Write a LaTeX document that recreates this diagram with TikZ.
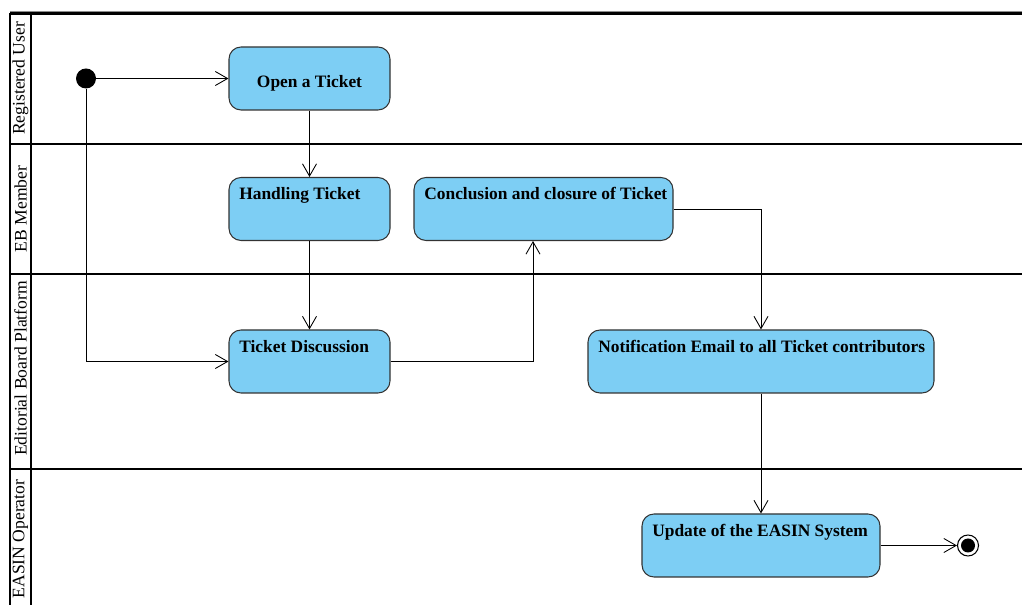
\documentclass[tikz,border=0pt]{standalone}
\usepackage{fontspec}
\setmainfont{Liberation Serif}
\usepackage{tikz}
\usetikzlibrary{arrows.meta}
\usetikzlibrary{calc}
\usepackage{xcolor}
\definecolor{actblue}{RGB}{125,206,244}

\begin{document}
\begin{tikzpicture}[
  act/.style={draw=black!80, fill=actblue, rounded corners=0.24cm, line width=0.6pt, inner sep=0pt},
  acttext/.style={font=\fontsize{9.9}{12}\selectfont\bfseries, anchor=base west, inner sep=0pt},
  lane/.style={rotate=90, inner sep=0pt},
  flow/.style={line width=0.5pt, -{Straight Barb[length=7pt,width=8pt]}},
  sep/.style={line width=1.2pt},
  dot/.style={circle, fill=black, inner sep=0pt}
]
\useasboundingbox (0,0) rectangle (20.44,12.1);

\draw [black!45, line width=0.5pt] (0.2,11.88) -- (20.44,11.88);
\draw [sep] (0.2,11.83) -- (20.44,11.83);
\draw [sep] (0.2,9.22) -- (20.44,9.22);
\draw [sep] (0.2,6.62) -- (20.44,6.62);
\draw [sep] (0.2,2.72) -- (20.44,2.72);
\draw [sep] (0.2,11.83) -- (0.2,0);
\draw [sep] (0.62,11.83) -- (0.62,0);

\node [lane] (l1) at (0.41,10.53) {Registered User};
\node [lane] (l2) at (0.41,7.92) {EB Member};
\node [lane] (l3) at (0.41,4.73) {Editorial Board Platform};
\node [lane] (l4) at (0.41,1.32) {EASIN Operator};

\node [dot, minimum size=0.4cm] (v1) at (1.72,10.53) {};
\node [act, minimum width=3.22cm, minimum height=1.26cm, font=\fontsize{9.9}{12}\selectfont\bfseries, text height=0.44cm, text depth=0.07cm] (v2) at (6.19,10.53) {Open a Ticket};
\node [act, minimum width=3.22cm, minimum height=1.26cm] (v3) at (6.19,7.92) {};
\node [act, minimum width=5.18cm, minimum height=1.26cm] (v4) at (10.87,7.92) {};
\node [act, minimum width=3.22cm, minimum height=1.26cm] (v5) at (6.19,4.87) {};
\node [act, minimum width=6.92cm, minimum height=1.26cm] (v6) at (15.22,4.87) {};
\node [act, minimum width=4.76cm, minimum height=1.26cm] (v7) at (15.22,1.19) {};
\node [circle, draw, fill=white, line width=0.6pt, inner sep=0pt, minimum size=0.42cm] (v8) at (19.36,1.19) {};
\node [dot, minimum size=0.28cm] (v9) at (v8) {};

\node [acttext] (t3) at ($(v3.north west)+(0.21,-0.46)$) {Handling Ticket};
\node [acttext] (t4) at ($(v4.north west)+(0.21,-0.46)$) {Conclusion and closure of Ticket};
\node [acttext] (t5) at ($(v5.north west)+(0.21,-0.46)$) {Ticket Discussion};
\node [acttext] (t6) at ($(v6.north west)+(0.21,-0.46)$) {Notification Email to all Ticket contributors};
\node [acttext] (t7) at ($(v7.north west)+(0.21,-0.46)$) {Update of the EASIN System};

\draw [flow] (v1) -- (v2);
\draw [flow] (v1) |- (v5);
\draw [flow] (v2) -- (v3);
\draw [flow] (v3) -- (v5);
\draw [flow] (v5) -| ([xshift=-0.21cm]v4.south);
\draw [flow] (v4) -| (v6);
\draw [flow] (v6) -- (v7);
\draw [flow] (v7) -- (v8);
\end{tikzpicture}
\end{document}
